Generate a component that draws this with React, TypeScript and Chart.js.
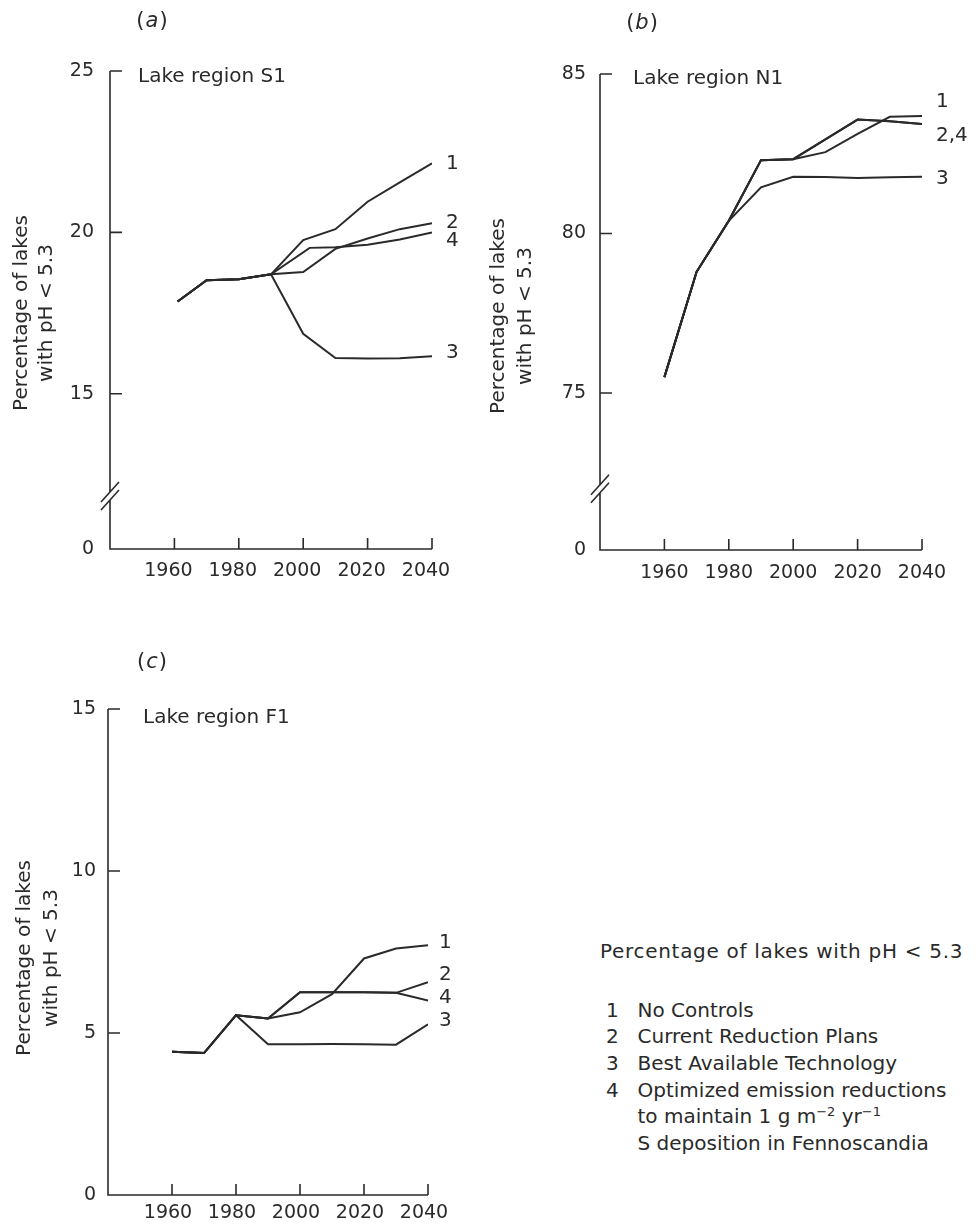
import React, { useEffect, useRef } from 'react';
import { Chart, registerables } from 'chart.js';

Chart.register(...registerables);

const FONT = '"DejaVu Sans", sans-serif';
const INK = '#2a2a2a';

// ---------- shared x axis ----------
const X_MIN = 1940;
const X_MAX = 2040;
const xTickYears = [1960, 1980, 2000, 2020, 2040];

// ---------- panel (a) Lake region S1 ----------
const yearsA = [1961, 1970, 1980, 1990, 2000, 2010, 2020, 2030, 2040];
const yearsA4 = [1961, 1970, 1980, 1990, 2002, 2010, 2020, 2030, 2040];
const a1 = [17.86, 18.52, 18.55, 18.7, 19.76, 20.1, 20.95, 21.55, 22.14];
const a2 = [17.86, 18.52, 18.55, 18.7, 18.77, 19.49, 19.81, 20.1, 20.28];
const a3 = [17.86, 18.52, 18.55, 18.7, 16.86, 16.11, 16.09, 16.1, 16.16];
const a4 = [17.86, 18.52, 18.55, 18.7, 19.52, 19.54, 19.62, 19.78, 20.0];
const yMinA = 10.19;
const yMaxA = 25;
const yTicksA = [yMinA, 15, 20, 25];
const breakA = 11.83;
const endLabelsA = [
  { text: '1', value: 22.12 },
  { text: '2', value: 20.31 },
  { text: '4', value: 19.75 },
  { text: '3', value: 16.26 },
];

// ---------- panel (b) Lake region N1 ----------
const yearsB = [1960, 1970, 1980, 1990, 2000, 2010, 2020, 2030, 2040];
const b1 = [75.5, 78.8, 80.4, 82.3, 82.33, 82.55, 83.12, 83.66, 83.68];
const b2 = [75.5, 78.8, 80.4, 82.3, 82.33, 82.95, 83.57, 83.52, 83.43];
const b3 = [75.5, 78.8, 80.4, 81.45, 81.78, 81.77, 81.74, 81.76, 81.78];
const b4 = [75.5, 78.8, 80.4, 82.3, 82.33, 82.95, 83.57, 83.52, 83.43];
const yMinB = 70.08;
const yMaxB = 85;
const yTicksB = [yMinB, 75, 80, 85];
const breakB = 72.0;
const endLabelsB = [
  { text: '1', value: 84.14 },
  { text: '2,4', value: 83.06 },
  { text: '3', value: 81.73 },
];

// ---------- panel (c) Lake region F1 ----------
const yearsC = [1960, 1970, 1980, 1990, 2000, 2010, 2020, 2030, 2040];
const c1 = [4.42, 4.38, 5.55, 5.45, 5.64, 6.2, 7.3, 7.61, 7.71];
const c2 = [4.42, 4.38, 5.55, 5.45, 6.26, 6.26, 6.26, 6.24, 6.57];
const c3 = [4.42, 4.38, 5.55, 4.65, 4.65, 4.66, 4.65, 4.64, 5.27];
const c4 = [4.42, 4.38, 5.55, 5.45, 6.26, 6.26, 6.26, 6.24, 6.0];
const yMinC = 0;
const yMaxC = 15;
const yTicksC = [0, 5, 10, 15];
const endLabelsC = [
  { text: '1', value: 7.79 },
  { text: '2', value: 6.79 },
  { text: '4', value: 6.08 },
  { text: '3', value: 5.38 },
];

const yTitleLines = ['Percentage of lakes', 'with pH < 5.3'];

type Series = { years: number[]; values: number[] };
type Spec = {
  left: number; top: number; w: number; h: number;
  padding: { left: number; top: number; right: number; bottom: number };
  xPad: number; yPad: number; xLabelOffset: number;
  yMin: number; yMax: number; yTicks: number[]; broken: boolean; breakAt: number | null;
  series: Series[];
  endLabels: { text: string; value: number }[];
  labelOffset: number;
  letter: string; letterX: number; letterY: number;
  title: string; titleX: number; titleY: number;
  ytX1: number; ytX2: number; ytCY: number;
};

const specs: Spec[] = [
  {
    left: 0, top: 0, w: 490, h: 610,
    padding: { left: 70, top: 71, right: 58, bottom: 31 },
    xPad: 11, yPad: 16, xLabelOffset: -6,
    yMin: yMinA, yMax: yMaxA, yTicks: yTicksA, broken: true, breakAt: breakA,
    series: [
      { years: yearsA, values: a1 },
      { years: yearsA, values: a2 },
      { years: yearsA, values: a3 },
      { years: yearsA4, values: a4 },
    ],
    endLabels: endLabelsA, labelOffset: 14,
    letter: 'a', letterX: 152, letterY: 22,
    title: 'Lake region S1', titleX: 138, titleY: 77,
    ytX1: 22, ytX2: 47, ytCY: 313,
  },
  {
    left: 480, top: 0, w: 500, h: 610,
    padding: { left: 80, top: 74, right: 58, bottom: 30 },
    xPad: 12, yPad: 14, xLabelOffset: 0,
    yMin: yMinB, yMax: yMaxB, yTicks: yTicksB, broken: true, breakAt: breakB,
    series: [
      { years: yearsB, values: b1 },
      { years: yearsB, values: b2 },
      { years: yearsB, values: b3 },
      { years: yearsB, values: b4 },
    ],
    endLabels: endLabelsB, labelOffset: 14,
    letter: 'b', letterX: 162, letterY: 24,
    title: 'Lake region N1', titleX: 153, titleY: 79,
    ytX1: 19, ytX2: 46, ytCY: 316,
  },
  {
    left: 0, top: 640, w: 490, h: 591,
    padding: { left: 68, top: 69, right: 62, bottom: 6 },
    xPad: 7, yPad: 12, xLabelOffset: -4,
    yMin: yMinC, yMax: yMaxC, yTicks: yTicksC, broken: false, breakAt: null,
    series: [
      { years: yearsC, values: c1 },
      { years: yearsC, values: c2 },
      { years: yearsC, values: c3 },
      { years: yearsC, values: c4 },
    ],
    endLabels: endLabelsC, labelOffset: 11,
    letter: 'c', letterX: 152, letterY: 23,
    title: 'Lake region F1', titleX: 143, titleY: 78,
    ytX1: 25, ytX2: 52, ytCY: 318,
  },
];

function decorPlugin(spec: Spec) {
  return {
    id: 'decor',
    afterDraw(chart: any) {
      const { ctx, chartArea: ca } = chart;
      const ys = chart.scales.y;
      const xs = chart.scales.x;
      const L = ca.left, R = ca.right, T = ca.top, B = ca.bottom;
      ctx.save();
      ctx.strokeStyle = INK;
      ctx.fillStyle = INK;
      ctx.lineWidth = 1.6;
      ctx.beginPath();
      if (spec.breakAt != null) {
        const yb = ys.getPixelForValue(spec.breakAt);
        ctx.moveTo(L, T);
        ctx.lineTo(L, yb - 4);
        ctx.moveTo(L, yb + 4);
        ctx.lineTo(L, B);
        ctx.lineTo(R, B);
        for (const d of [-4, 4]) {
          ctx.moveTo(L - 9, yb + d + 10);
          ctx.lineTo(L + 9, yb + d - 10);
        }
      } else {
        ctx.moveTo(L, T);
        ctx.lineTo(L, B);
        ctx.lineTo(R, B);
      }
      for (const t of ys.ticks) {
        if (t.value > ys.min + 1e-9) {
          const py = ys.getPixelForValue(t.value);
          ctx.moveTo(L, py);
          ctx.lineTo(L + 12, py);
        }
      }
      for (const t of xs.ticks) {
        const px = xs.getPixelForValue(t.value);
        ctx.moveTo(px, B);
        ctx.lineTo(px, B - 11);
      }
      ctx.stroke();

      ctx.font = `20px ${FONT}`;
      ctx.textBaseline = 'middle';
      ctx.textAlign = 'left';
      ctx.fillText(spec.title, spec.titleX, spec.titleY);
      for (const lb of spec.endLabels) {
        ctx.fillText(lb.text, R + spec.labelOffset, ys.getPixelForValue(lb.value));
      }

      // panel letter "(x)" with italic letter
      const nf = `21px ${FONT}`;
      const itf = `italic 21px ${FONT}`;
      ctx.font = nf;
      const wOpen = ctx.measureText('(').width;
      const wClose = ctx.measureText(')').width;
      ctx.font = itf;
      const wLet = ctx.measureText(spec.letter).width + 2;
      let px = spec.letterX - (wOpen + wLet + wClose) / 2;
      ctx.font = nf;
      ctx.fillText('(', px, spec.letterY);
      px += wOpen + 1;
      ctx.font = itf;
      ctx.fillText(spec.letter, px, spec.letterY);
      px += wLet - 1;
      ctx.font = nf;
      ctx.fillText(')', px, spec.letterY);

      // y title
      ctx.font = `20px ${FONT}`;
      ctx.textAlign = 'center';
      const xsT = [spec.ytX1, spec.ytX2];
      yTitleLines.forEach((line, i) => {
        ctx.save();
        ctx.translate(xsT[i], spec.ytCY);
        ctx.rotate(-Math.PI / 2);
        ctx.fillText(line, 0, 0);
        ctx.restore();
      });
      ctx.restore();
    },
  };
}

function Panel({ spec }: { spec: Spec }) {
  const ref = useRef<HTMLCanvasElement>(null);
  useEffect(() => {
    const canvas = ref.current!;
    const chart = new Chart(canvas, {
      type: 'line',
      data: {
        datasets: spec.series.map((s) => ({
          data: s.years.map((yr, i) => ({ x: yr, y: s.values[i] })),
          borderColor: INK,
          borderWidth: 2,
          pointRadius: 0,
          tension: 0,
          fill: false,
        })),
      },
      options: {
        responsive: false,
        animation: false,
        devicePixelRatio: 1,
        layout: { padding: spec.padding },
        plugins: {
          legend: { display: false },
          tooltip: { enabled: false },
          title: { display: false },
        },
        scales: {
          x: {
            type: 'linear',
            min: X_MIN,
            max: X_MAX,
            grid: { display: false, drawTicks: false },
            border: { display: false },
            afterBuildTicks: (s: any) => {
              s.ticks = xTickYears.map((v) => ({ value: v }));
            },
            afterFit: (s: any) => {
              s.height = 30;
            },
            ticks: {
              font: { family: 'DejaVu Sans', size: 19 },
              color: INK,
              padding: spec.xPad,
              labelOffset: spec.xLabelOffset,
              maxRotation: 0,
              autoSkip: false,
              callback: (v: any) => String(v),
            },
          },
          y: {
            type: 'linear',
            min: spec.yMin,
            max: spec.yMax,
            grid: { display: false, drawTicks: false },
            border: { display: false },
            afterBuildTicks: (s: any) => {
              s.ticks = spec.yTicks.map((v) => ({ value: v }));
            },
            afterFit: (s: any) => {
              s.width = 40;
            },
            ticks: {
              font: { family: 'DejaVu Sans', size: 19 },
              color: INK,
              padding: spec.yPad,
              autoSkip: false,
              callback: (v: any) => (v === spec.yMin ? '0' : String(v)),
            },
          },
        },
      } as any,
      plugins: [decorPlugin(spec) as any],
    });
    return () => chart.destroy();
  }, [spec]);
  return (
    <canvas
      ref={ref}
      width={spec.w}
      height={spec.h}
      style={{ position: 'absolute', left: spec.left, top: spec.top, width: spec.w, height: spec.h }}
    />
  );
}

const legendHeading = 'Percentage of lakes with pH < 5.3';
const legendNumbers = ['1', '2', '3', '4'];
const legendTexts = ['No Controls', 'Current Reduction Plans', 'Best Available Technology', 'Optimized emission reductions'];

export default function App() {
  const supStyle: React.CSSProperties = {
    fontSize: 13,
    lineHeight: 0,
    position: 'relative',
    top: '-0.55em',
    verticalAlign: 'baseline',
  };
  const numStyle: React.CSSProperties = { display: 'inline-block', width: 31.5 };
  return (
    <div
      style={{
        position: 'absolute',
        left: 0,
        top: 0,
        width: 980,
        height: 1231,
        background: '#ffffff',
        overflow: 'hidden',
        fontFamily: FONT,
        color: INK,
      }}
    >
      {specs.map((s, i) => (
        <Panel key={i} spec={s} />
      ))}
      <div
        style={{
          position: 'absolute',
          left: 600,
          top: 938,
          fontSize: 20,
          lineHeight: '26px',
          letterSpacing: '0.7px',
          whiteSpace: 'nowrap',
        }}
      >
        {legendHeading}
      </div>
      <div
        style={{
          position: 'absolute',
          left: 606,
          top: 996.7,
          fontSize: 20,
          lineHeight: '26.67px',
          whiteSpace: 'nowrap',
        }}
      >
        {legendNumbers.map((n, i) => (
          <div key={n}>
            <span style={numStyle}>{n}</span>
            {legendTexts[i]}
          </div>
        ))}
        <div style={{ paddingLeft: 31.5 }}>
          to maintain 1 g m<span style={supStyle}>−2</span> yr<span style={supStyle}>−1</span>
        </div>
        <div style={{ paddingLeft: 31.5 }}>S deposition in Fennoscandia</div>
      </div>
    </div>
  );
}
